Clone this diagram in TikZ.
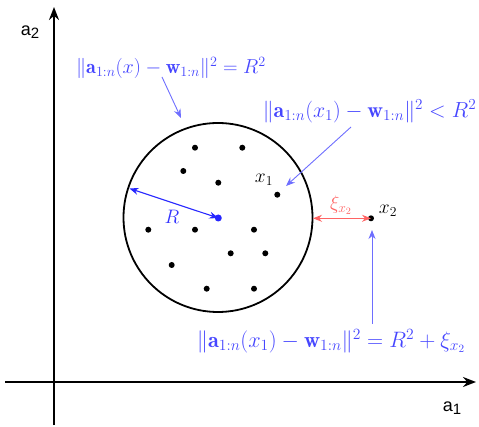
\RequirePackage{fix-cm}
\documentclass[tikz,border=0pt]{standalone}
\usepackage{fontspec}
\newfontfamily\axfont{Liberation Sans}
\usetikzlibrary{arrows.meta}
\definecolor{lblue}{RGB}{110,110,255}
\definecolor{tblue}{RGB}{70,70,255}
\definecolor{lred}{RGB}{255,100,100}
\begin{document}
\begin{tikzpicture}[x=1pt,y=-1pt,
  axis/.style={line width=2pt,-{Stealth[length=13pt,width=10pt]}},
  pt/.style={circle,fill=black,inner sep=0pt,minimum size=6pt},
  ann/.style={text=tblue,inner sep=1pt},
  annarrow/.style={draw=lblue,line width=0.9pt,-{Stealth[length=9pt,width=7pt]}},
  lbl/.style={font=\fontsize{19.5}{23}\selectfont,inner sep=1pt},
  axlbl/.style={font=\axfont\fontsize{18}{22}\selectfont,inner sep=1pt}]
\useasboundingbox (0,0) rectangle (479,427);
% axes
\coordinate (ybot) at (54,425);
\coordinate (ytop) at (54,7);
\coordinate (xl) at (5,382);
\coordinate (xr) at (476,382);
\draw[axis] (ybot) -- (ytop);
\draw[axis] (xl) -- (xr);
\node[axlbl] (a2) at (30,32) {a\raisebox{-3pt}{\fontsize{15}{18}\selectfont 2}};
\node[axlbl] (a1) at (452,408) {a\raisebox{-3pt}{\fontsize{15}{18}\selectfont 1}};
% circle
\node[circle,draw,line width=1.8pt,minimum size=189pt,inner sep=0pt] (circ) at (218,217.5) {};
% dots
\foreach \x/\y [count=\i] in {195/147.7,242.3/147.7,183.3/171,218.3/182.7,148.3/229.7,195/229.7,254/229.7,230.7/253.3,265.3/253.3,171.7/265,206.7/288.7,254/288.7}
  \node[pt] (d\i) at (\x,\y) {};
\node[pt] (x1) at (277.3,194.7) {};
\node[pt] (x2) at (371,218.3) {};
\node[circle,fill=blue!85!white,inner sep=0pt,minimum size=7pt] (c) at (218.3,218) {};
\node[lbl] (x1l) at (264,180) {$x_1$};
\node[lbl] (x2l) at (388,211) {$x_2$};
% R arrow
\coordinate (rl) at (129.5,188.5);
\draw[draw=blue!85!white,line width=1.1pt,{Stealth[length=9pt,width=7pt]}-{Stealth[length=9pt,width=7pt]}] (rl) -- (c.center);
\node[lbl,text=blue!80!white] (Rl) at (172,217) {$R$};
% xi arrow
\coordinate (xil) at (313,218.3);
\draw[draw=lred,line width=1.1pt,{Stealth[length=9pt,width=7pt]}-{Stealth[length=9pt,width=7pt]}] (xil) -- (x2.center);
\node[lbl,text=lred] (xi) at (341,205) {$\xi_{x_2}$};
% annotations
\node[ann,font=\fontsize{20.2}{24}\selectfont] (t1) at (171,68) {$\|\mathbf{a}_{1:n}(x)-\mathbf{w}_{1:n}\|^2=R^2$};
\coordinate (t1e) at (181,118);
\draw[annarrow] (162,77) -- (t1e);
\node[ann,font=\fontsize{21.8}{26}\selectfont] (t2) at (369.5,111) {$\|\mathbf{a}_{1:n}(x_1)-\mathbf{w}_{1:n}\|^2<R^2$};
\coordinate (t2e) at (286,186);
\draw[annarrow] (351,127) -- (t2e);
\node[ann,font=\fontsize{22.3}{26}\selectfont] (t3) at (331,341) {$\|\mathbf{a}_{1:n}(x_1)-\mathbf{w}_{1:n}\|^2=R^2+\xi_{x_2}$};
\coordinate (t3e) at (372,230);
\draw[annarrow] (372,324) -- (t3e);
\end{tikzpicture}
\end{document}
